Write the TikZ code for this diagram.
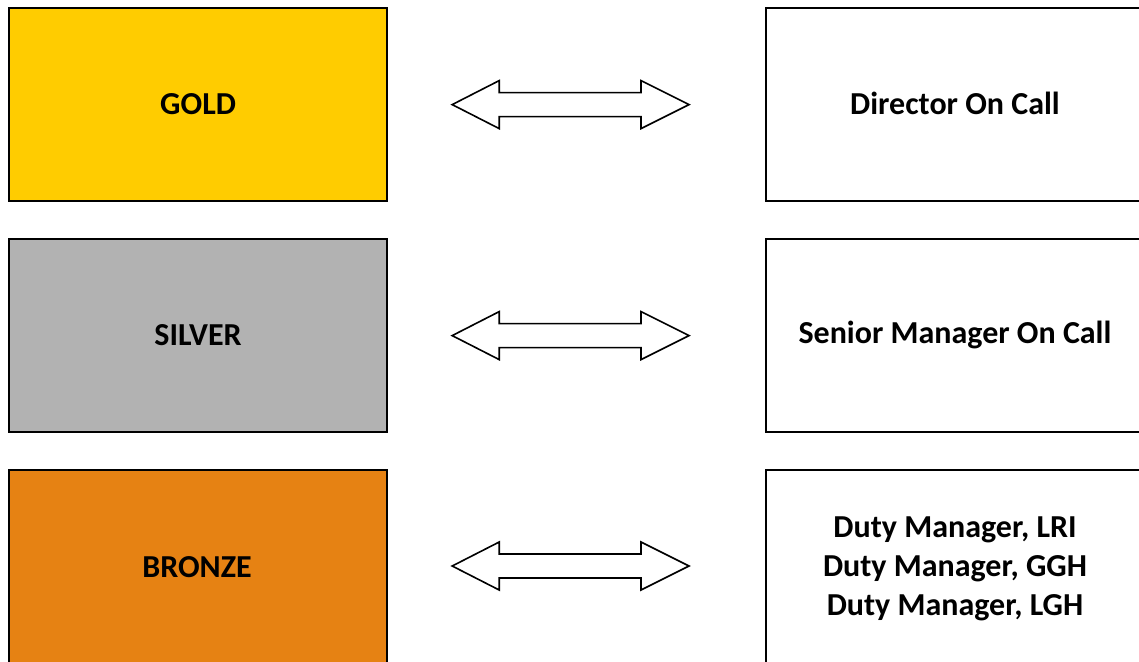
\documentclass[tikz,border=0pt]{standalone}
\usepackage{fontspec}
\setmainfont{Carlito}
\definecolor{gold}{HTML}{FFCC00}
\definecolor{silverc}{HTML}{B2B2B2}
\definecolor{bronze}{HTML}{E68213}
\tikzset{
  txt/.style={font=\fontsize{32pt}{39pt}\selectfont\bfseries, align=center},
  lvl/.style={draw=black, line width=2.2pt, minimum width=378pt, minimum height=193pt, anchor=north west, inner sep=0pt, txt},
  role/.style={lvl, fill=white, minimum width=400pt},
  barrow/.style={draw=black, line width=1.6pt, fill=white, line join=miter}
}
\newcommand\dblarrow[2]{%
  \path (#1) -- (#2) coordinate[pos=0] (s) coordinate[pos=1] (e);
  \draw[barrow] ([xshift=64pt]s) -- ([xshift=111pt,yshift=-24pt]s) -- ([xshift=111pt,yshift=-12pt]s)
    -- ([xshift=-124pt,yshift=-12pt]e) -- ([xshift=-124pt,yshift=-24pt]e) -- ([xshift=-76pt]e)
    -- ([xshift=-124pt,yshift=24pt]e) -- ([xshift=-124pt,yshift=12pt]e) -- ([xshift=111pt,yshift=12pt]s)
    -- ([xshift=111pt,yshift=24pt]s) -- cycle;}
\begin{document}
\begin{tikzpicture}[x=1pt,y=-1pt]
\useasboundingbox (0,0) rectangle (1139,661);
\clip (0,0) rectangle (1139,661);
\node[lvl, fill=gold] (gold) at (8,7) {GOLD};
\node[lvl, fill=silverc] (silver) at (8,238) {SILVER};
\node[lvl, fill=bronze, minimum height=230pt] (bronze) at (8,469) {};
\node[txt] (bronzet) at (197,567) {BRONZE};
\node[role] (doc) at (765,7) {};
\node[txt] (doct) at (955,103) {Director On Call};
\node[role] (smoc) at (765,238) {};
\node[txt] (smoct) at (955,335) {Senior Manager On Call};
\node[role, minimum height=230pt] (dm) at (765,469) {};
\node[txt] (dmt) at (955,569) {Duty Manager, LRI\\Duty Manager, GGH\\Duty Manager, LGH};
\dblarrow{gold.east}{doc.west}
\dblarrow{silver.east}{smoc.west}
\path (bronze.north east) ++(0,97) coordinate (bre);
\path (dm.north west) ++(0,97) coordinate (dmw);
\dblarrow{bre}{dmw}
\end{tikzpicture}
\end{document}
